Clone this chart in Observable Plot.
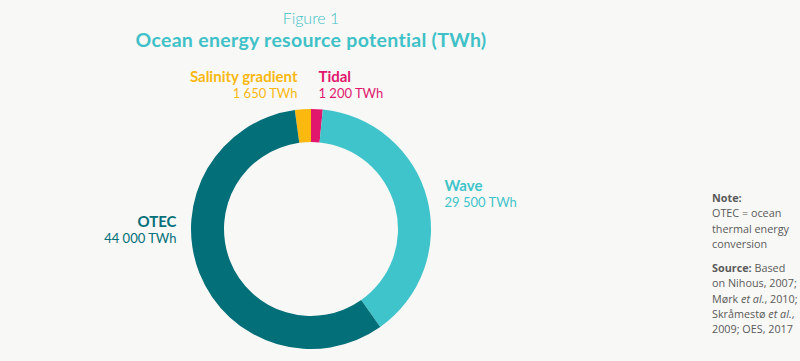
<!DOCTYPE html>
<html>
<head>
<meta charset="utf-8">
<script src="https://cdn.jsdelivr.net/npm/d3@7"></script>
<script src="https://cdn.jsdelivr.net/npm/@observablehq/plot@0.6"></script>
<style>
  html, body { margin: 0; padding: 0; background: #f8f8f6; }
  #wrap { position: relative; width: 800px; height: 361px; overflow: hidden; }
  #title { position: absolute; left: 0; top: 8px; width: 622px; text-align: center; color: #3fc1c7; font-family: Lato, "Noto Sans", sans-serif; }
  #title .fig { font-size: 16px; font-weight: 300; line-height: 20px; }
  #title .main { font-size: 19.5px; font-weight: 700; line-height: 24px; letter-spacing: 0.3px; }
  #note { position: absolute; left: 712px; top: 190px; width: 88px; color: #5a5a5a; font-family: "Open Sans", "Noto Sans", sans-serif; font-size: 10.8px; line-height: 15.3px; }
  #note p { margin: 0 0 9px 0; }
  #plot { position: absolute; left: 0; top: 0; }
</style>
</head>
<body>
<div id="wrap">
  <div id="plot"></div>
  <div id="title"><div class="fig">Figure 1</div><div class="main">Ocean energy resource potential (TWh)</div></div>
  <div id="note">
    <p><b>Note:</b><br>OTEC = ocean<br>thermal energy<br>conversion</p>
    <p><b>Source:</b> Based<br>on Nihous, 2007;<br>Mørk <i>et al.</i>, 2010;<br>Skråmestø <i>et al.</i>,<br>2009; OES, 2017</p>
  </div>
</div>
<script>
// ---- data ----
const categories = ["Salinity gradient", "Tidal", "Wave", "OTEC"];
const values = [1650, 1200, 29500, 44000];
const valueLabels = ["1 650 TWh", "1 200 TWh", "29 500 TWh", "44 000 TWh"];

// ---- styles / layout (kept separate from data) ----
const colors = ["#fbb80f", "#e0176d", "#40c4cb", "#036f79"];
const labelPos = [
  {x: 297, y: 77, anchor: "end"},
  {x: 318, y: 77, anchor: "start"},
  {x: 444, y: 186, anchor: "start"},
  {x: 176, y: 222, anchor: "end"}
];
const center = {x: 311, y: 229};
const outerR = 120, innerR = 87;

const data = categories.map((c, i) => ({
  category: c, value: values[i], valueLabel: valueLabels[i],
  color: colors[i], ...labelPos[i]
}));

const total = d3.sum(values);
const startAngle = -2 * Math.PI * values[0] / total; // tidal begins at 12 o'clock

function donutMark(index, scales, vals, dims) {
  const sx = scales && scales.x ? scales.x : (v => v);
  const sy = scales && scales.y ? scales.y : (v => v);
  const cx = sx(center.x), cy = sy(center.y);
  const pie = d3.pie().sort(null).value(d => d.value)
    .startAngle(startAngle).endAngle(startAngle + 2 * Math.PI);
  const arc = d3.arc().innerRadius(innerR).outerRadius(outerR);
  const g = d3.create("svg:g").attr("transform", `translate(${cx},${cy})`);
  g.selectAll("path").data(pie(data)).join("path")
    .attr("d", arc).attr("fill", d => d.data.color);
  return g.node();
}

const font = "Lato, 'Noto Sans', sans-serif";
const labelMarks = ["start", "end"].flatMap(anchor => {
  const sub = data.filter(d => d.anchor === anchor);
  return [
    Plot.text(sub, {x: "x", y: "y", text: "category", fill: "color",
      textAnchor: anchor, fontWeight: 700, fontSize: 15, fontFamily: font}),
    Plot.text(sub, {x: "x", y: d => d.y + 16, text: "valueLabel", fill: "color",
      textAnchor: anchor, fontWeight: 400, fontSize: 13, fontFamily: font})
  ];
});

const plot = Plot.plot({
  width: 800, height: 361, margin: 0,
  x: {domain: [0, 800], range: [0, 800], axis: null},
  y: {domain: [0, 361], range: [0, 361], axis: null},
  style: {background: "transparent", fontFamily: font},
  marks: [donutMark, ...labelMarks]
});
document.getElementById("plot").appendChild(plot);
</script>
</body>
</html>
